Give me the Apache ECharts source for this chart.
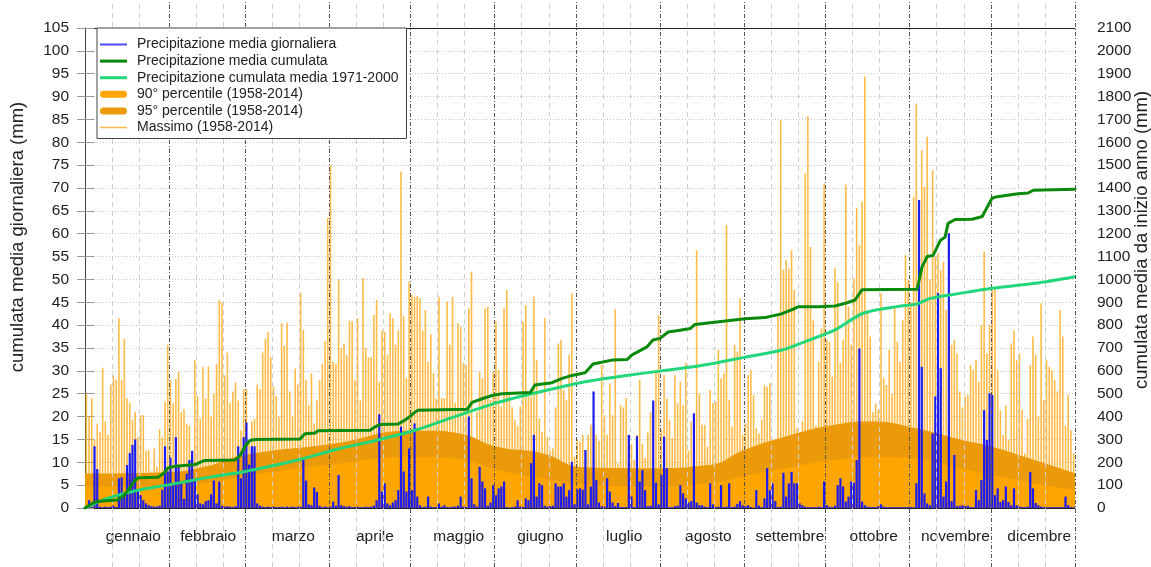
<!DOCTYPE html>
<html><head><meta charset="utf-8">
<script src="https://cdn.jsdelivr.net/npm/echarts@6/dist/echarts.min.js"></script>
<style>html,body{margin:0;padding:0;background:#fff}#c{width:1151px;height:567px}</style>
</head><body><div id="c"></div>
<script>
const monthNames = ['gennaio','febbraio','marzo','aprile','maggio','giugno','luglio','agosto','settembre','ottobre','novembre','dicembre'];
const monthDays = [31,28,31,30,31,30,31,31,30,31,30,31];

// Massimo (1958-2014), mm/day
const dailyMax = [
25,20,24,15,18.5,16.7,30.7,19,16,27,29,28,41.5,28,37,24,23,19.3,21,15.5,20.3,20.3,12.5,12.7,8,13,9,17.2,15.5,23.3,35.7,
27.9,22.9,28.2,29.8,21,21.6,18.5,18,12.5,32.4,24.5,19.5,30.9,24,31,20,25,31.5,45.5,45,29,34,23,25.5,27.5,23.5,17,26,
26,14,19,19.5,27,26,34,37,38.5,33,26.5,24.5,20,40.5,35.5,40.5,25.5,20,30.5,27,47,39,28,22.5,29.5,18.5,23.5,28,31.5,36.5,63.5,
75,32,31.5,50,35,36,33.5,41,40.8,28,41.5,23.5,50.3,35,33,33,42.2,45.5,27.6,38.9,38.5,33.5,42.6,41.5,35.7,38.9,73.6,41.9,28.4,49.5,
46.6,46.2,46.4,45.9,38.8,43.3,32,38,29.5,24,46.2,24,24,45.1,35.7,46.2,23,40.4,39.7,31.7,31.3,43.7,51.7,15,21,29.8,28.4,43.7,44,23.6,29.8,
40.8,30.2,22.2,43.7,47.7,25.5,22,19.3,18,22.2,40.8,44.4,24.4,24.4,46.2,32.4,19.6,16.7,41.5,15.5,12.5,13,22,36,36.8,25.8,23.6,33.5,47,11.2,
15,14.5,16,12.5,16,18.2,17.5,16,14.7,31.3,20.3,16,27.3,20.3,43.5,9.8,22.5,22,24,15.5,14,10.5,16,28,14,11,16.5,21,22.9,30.2,42.2,
17,29.1,24,19.3,15.3,29.1,22.9,27.6,22.5,31.7,12.5,18.9,8.5,56.4,25,18.2,18.2,13.4,25.8,22.9,23.3,34.6,28.4,29.5,61.9,23.6,17.8,35.7,34.2,45.9,16,
18.5,29.1,30.2,24.7,17.4,16.3,19.3,26.9,26.5,27.3,14.9,15,42.2,84.9,52.1,54.3,52.4,56.4,47.7,17.5,16.5,19,73.2,85.7,57.1,41,18,32,39.3,71,
36.8,36.4,28.7,52.4,49.5,31.7,36.8,70.7,44,35.7,50.2,65.6,57.5,67,94.4,42.9,37.5,21,22.9,21.5,47,28.4,26.9,34.6,25,44,36.4,32,41.1,55.3,49.9,
45,68.1,88.5,60,78.3,70.3,81.2,50,73.9,55,55.7,52,53.9,43.3,50,35.7,36.8,33.8,25.5,22,24.4,24.7,31.3,30.2,32.4,27.6,40,56.1,33.8,40,
47.7,48.1,30.2,21.4,16,22.5,15,36,38.9,32.4,33.8,21.5,12,19.5,31.3,37.5,33.5,20,44.8,23.6,32.4,30.9,30.2,28,25.5,43.3,37.5,18,24.7,17,12
];

// Precipitazione media giornaliera, mm/day
const dailyMean = [
0.3,1.7,0.2,13.5,8.5,0.3,0.2,0.3,0.2,0.3,0.5,0.2,6.5,6.7,2.5,9.4,12,13.8,15,4,2.8,1.7,1,0.6,0.4,0.3,0.3,0.5,4,13.5,8,
11,5,15.5,9,5.5,2,7.5,10.5,12.5,6,3,1,0.8,1.5,1.7,3,6,1,5.8,0.5,0.3,0.4,0.3,0.2,0.4,13.5,6.5,15.5,
18.7,9.5,13.5,13.5,1,0.5,0.3,0.2,0.3,0.2,0.3,0.2,0.2,0.3,0.2,0.3,0.2,0.3,0.2,0.3,0.3,10.5,6,0.8,0.6,4.5,3.5,0.5,0.2,0.3,0.2,
0.3,1.4,0.5,7.2,0.6,0.4,0.3,0.4,0.2,0.2,0.3,0.2,0.2,0.3,0.2,0.3,0.5,1.7,20.5,3.6,5.4,1,0.6,1.2,1.7,3.9,17.8,8,3.6,13,
3.9,18.5,2.5,0.6,0.2,0.3,2.5,0.3,0.2,0.2,1,0.3,0.6,0.2,0.2,0.3,0.3,0.5,2.5,0.3,0.2,20,6.5,0.8,0.3,9,5.8,4.3,0.5,1.2,5,
2.8,4.3,4.7,5.8,0.2,0.1,0.2,0.3,1.7,0.3,0.2,2.1,1.7,9.8,16,2.5,5.4,5,0.5,0.3,0.4,0.5,5.4,4.7,4.7,5.4,2.5,3.9,10.1,0.8,
4.1,4.3,4,12.7,0.8,4.7,25.5,6.1,1.2,0.4,0.3,6.5,3.6,1.2,0.4,1.1,0.2,0.2,0.2,16,2.5,0.2,15.7,5.8,8.3,3.9,0.4,0.5,23.5,5.5,0.8,
7.2,15.6,8.7,0.2,0.2,0.4,0.5,5,3.2,2.1,1.2,1.5,20.7,1.2,0.6,0.6,0.3,0.2,5.4,0.8,0.2,0.3,5,0.2,0.3,5.4,0.2,0.3,0.9,1.5,0.6,
0.4,0.6,0.2,0.1,3.9,0.5,0.2,2.1,8.7,3.9,5.4,1.5,0.2,0.3,7.7,2.5,5.4,7.9,5.4,5.4,1,0.6,0.3,0.2,0.2,0.2,0.2,0.3,0.2,5.8,
0.6,0.3,0.2,0.5,5,6.5,4.7,1.4,2.5,5.8,5.5,10.5,34.9,1.4,0.6,0.3,0.2,0.2,0.2,0.4,0.8,0.3,0.2,0.2,0.2,0.2,0.2,0.2,0.2,0.2,0.2,
0.2,0.2,5.4,67.4,30.9,3.2,1,0.6,16.3,24.4,47,30.6,2.5,5.8,60.1,1.5,11.6,0.4,0.5,0.6,0.4,0.5,0.2,0.2,3.9,1.7,6.1,21.4,14.9,25.1,
24.7,2.8,4.3,1.3,1.7,4.7,1.3,0.6,4.3,0.6,0.3,0.2,0.2,0.3,7.9,4.3,1.1,0.6,0.3,0.2,0.2,0.2,0.2,0.2,0.2,0.2,0.2,2.5,0.6,0.2,0.2
];

// Precipitazione media cumulata (right axis, mm), read at day positions
const cumDays = [0,2.6,4.4,11.8,14.4,16.6,18.4,19.5,26.9,28.8,30.6,33.2,40.6,42.4,44.2,55.3,57.2,59,60.8,62.7,79.3,81.1,84.8,85.9,105.1,106.9,108.8,115.4,118,119.8,121.7,122.8,140.9,142.7,146.4,150.1,153.8,164.1,165.9,172.2,175.9,179.6,184.4,187.3,194.7,199.9,201.7,207.2,209.4,212,215,219.4,223.1,224.9,230.5,243.4,250.7,257,260.7,262.9,270.3,276.5,281,283.9,286.5,306.8,308.6,310.5,312.7,315.3,317.1,318.2,320.8,327.1,330.8,334.4,336.3,344,347.7,349.6,365];
const cumValues = [0,20,28,35,55,90,120,132,135,150,175,183,190,200,208,210,230,270,295,300,302,325,328,338,340,355,365,367,385,400,420,428,432,462,478,492,500,505,538,548,567,580,592,630,648,650,670,705,735,742,770,778,785,803,810,828,833,850,868,880,881,884,898,910,955,957,1055,1100,1105,1170,1185,1245,1262,1263,1275,1355,1362,1375,1378,1390,1395];

// Precipitazione cumulata media 1971-2000 (right axis, mm)
const normDays = [0,5.5,10.3,19.5,30.2,46,59,78.5,92.2,108.8,121.7,136.4,152.3,167.7,184.4,201,219.4,230.5,243.4,257,265.5,276.5,286.9,299.4,306.8,311.6,322.6,334.4,350.2,365];
const normValues = [0,30,50,78,100,135,160,210,255,300,340,400,462,508,552,582,610,630,660,691,728,779,852,881,893,917,939,961,983,1012];

// Percentiles (left axis, mm/day)
const p95Days = [0,30,44,59,92,120,127,138,152,168.5,184,207,230,243,258,276.5,290.5,305,322.6,334.4,350,365];
const p95Values = [7.5,7.8,9,11.6,14.1,16.9,16.9,16.3,13.4,12,8.9,8.7,9.4,12.7,15.6,18.2,18.9,17.6,15,13.4,10.5,7.6];
const p90Days = [0,30,44,59,92,120,138,152,168.5,184,207,230,243,258,276.5,290.5,305,322.6,334.4,350,365];
const p90Values = [4.7,4.8,5.4,7,9.6,11.2,10.7,8.3,6.5,5.2,4.7,5.4,6.9,8.7,10.5,11.2,10.9,8.7,7.2,5.4,3.9];

if (dailyMax.length !== 365 || dailyMean.length !== 365) throw new Error('len ' + dailyMax.length + ' ' + dailyMean.length);

const monthStarts = []; let acc = 0;
monthDays.forEach(d => { monthStarts.push(acc); acc += d; });
const monthEnds = monthStarts.slice(1).concat([365]);
const dekadLines = []; monthStarts.forEach(s => { dekadLines.push(s + 10, s + 20); });
const labelShift = n => (n === 28 ? 0.4 : n === 30 ? 1.9 : 2.3);
const labelPos = monthStarts.map((s, i) => s + monthDays[i] / 2 + labelShift(monthDays[i]));

const FONT = '"Liberation Sans", Arial, sans-serif';
const zip = (a, b) => a.map((v, i) => [v, b[i]]);
const lineIcon = (h) => 'path://M0,0M0,13M0,' + (6.5 - h / 2) + 'L27,' + (6.5 - h / 2) + 'L27,' + (6.5 + h / 2) + 'L0,' + (6.5 + h / 2) + 'Z';
const fatIcon = 'path://M0,0M0,13M3.5,3L23.5,3A3.5,3.5,0,0,1,23.5,10L3.5,10A3.5,3.5,0,0,1,3.5,3Z';

const C_BLUE = '#1c1cf0', C_DG = '#0a8a0a', C_LG = '#22d67a', C_P90 = '#ffa500', C_P95 = '#eb9a0a', C_MAX = '#ffaa1a';

const chart = echarts.init(document.getElementById('c'), null, {renderer: 'canvas'});
chart.setOption({
  animation: false,
  textStyle: {fontFamily: FONT},
  grid: [
    {left: 85, right: 76, top: 28, bottom: 59, outerBoundsMode: 'none'},
    {left: 85, right: 76, top: 0, bottom: 0, outerBoundsMode: 'none'}
  ],
  legend: {
    orient: 'vertical', left: 97, top: 28, z: 20,
    padding: [9.5, 8, 4, 3], itemGap: 2.6, itemWidth: 27, itemHeight: 13,
    backgroundColor: '#fff', borderColor: '#444', borderWidth: 1, borderRadius: 0,
    selectedMode: false,
    textStyle: {fontSize: 14, lineHeight: 13, color: '#222', fontFamily: FONT, padding: [0, 0, 0, 5]},
    data: [
      {name: 'Precipitazione media giornaliera', icon: lineIcon(2), itemStyle: {color: '#4a4aff', borderWidth: 0}},
      {name: 'Precipitazione media cumulata', icon: lineIcon(3), itemStyle: {color: C_DG, borderWidth: 0}},
      {name: 'Precipitazione cumulata media 1971-2000', icon: lineIcon(3), itemStyle: {color: C_LG, borderWidth: 0}},
      {name: '90° percentile (1958-2014)', icon: fatIcon, itemStyle: {color: C_P90, borderWidth: 0}},
      {name: '95° percentile (1958-2014)', icon: fatIcon, itemStyle: {color: C_P95, borderWidth: 0}},
      {name: 'Massimo (1958-2014)', icon: lineIcon(1.5), itemStyle: {color: C_MAX, borderWidth: 0}}
    ]
  },
  xAxis: [
    {gridIndex: 0, type: 'value', min: 0, max: 365, position: 'bottom',
     axisLine: {show: true, lineStyle: {color: '#222', width: 1}}, axisTick: {show: false}, splitLine: {show: false},
     axisLabel: {customValues: labelPos, margin: 21, fontSize: 15.5, color: '#222',
       formatter: v => { const i = labelPos.findIndex(p => Math.abs(p - v) < 1e-6); return i >= 0 ? monthNames[i] : ''; }}},
    {gridIndex: 1, type: 'value', min: 0, max: 365, show: false},
    {gridIndex: 0, type: 'value', min: 0, max: 365, position: 'top',
     axisLine: {show: true, onZero: false, lineStyle: {color: '#222', width: 1}}, axisTick: {show: false},
     axisLabel: {show: false}, splitLine: {show: false}},
    {gridIndex: 0, type: 'value', min: 0, max: 365, show: false}
  ],
  yAxis: [
    {gridIndex: 0, type: 'value', min: 0, max: 105, interval: 5, position: 'left',
     axisLine: {show: true, lineStyle: {color: '#444'}},
     axisTick: {show: true, length: 8, lineStyle: {color: '#999'}},
     axisLabel: {fontSize: 15.5, color: '#222', margin: 16, formatter: v => String(v)},
     splitLine: {show: true, lineStyle: {color: '#c8c8c8', type: [1, 2]}},
     name: 'cumulata media giornaliera (mm)', nameLocation: 'middle', nameRotate: 90, nameGap: 58, nameMoveOverlap: false,
     nameTextStyle: {fontSize: 18.5, color: '#222', padding: [0, 0, 0, 62]}},
    {gridIndex: 0, type: 'value', min: 0, max: 2100, interval: 100, position: 'right',
     axisLine: {show: false}, axisTick: {show: true, length: 9, lineStyle: {color: '#999'}},
     axisLabel: {fontSize: 15.5, color: '#222', margin: 22, formatter: v => String(v)},
     splitLine: {show: false},
     name: 'cumulata media da inizio anno (mm)', nameLocation: 'middle', nameRotate: 90, nameGap: 57, nameMoveOverlap: false,
     nameTextStyle: {fontSize: 18.5, color: '#222', padding: [0, 0, 0, 56]}},
    {gridIndex: 1, type: 'value', min: 0, max: 1, show: false}
  ],
  series: [
    {type: 'line', xAxisIndex: 1, yAxisIndex: 2, data: [], z: 0, silent: true,
     markLine: {silent: true, symbol: ['none', 'none'], label: {show: false},
       data: dekadLines.map(v => ({xAxis: v, lineStyle: {color: '#cfcfcf', type: [5, 4], width: 1}}))
         .concat(monthEnds.map(v => ({xAxis: v, lineStyle: {color: '#555', type: [4, 2, 1, 2], width: 1}})))}},
    {name: 'Massimo (1958-2014)', type: 'bar', xAxisIndex: 0, yAxisIndex: 0, z: 1,
     data: dailyMax.map((v, i) => [i + 0.5, v]), barWidth: 1.6,
     itemStyle: {color: C_MAX, opacity: 0.8}},
    {name: '95° percentile (1958-2014)', type: 'line', xAxisIndex: 0, yAxisIndex: 0, z: 2,
     data: zip(p95Days, p95Values), smooth: true, symbol: 'none', color: C_P95,
     lineStyle: {width: 0}, areaStyle: {color: C_P95, opacity: 1}},
    {name: '90° percentile (1958-2014)', type: 'line', xAxisIndex: 0, yAxisIndex: 0, z: 3,
     data: zip(p90Days, p90Values), smooth: true, symbol: 'none', color: C_P90,
     lineStyle: {width: 0}, areaStyle: {color: C_P90, opacity: 1}},
    {name: 'Precipitazione media giornaliera', type: 'bar', xAxisIndex: 3, yAxisIndex: 0, z: 4,
     data: dailyMean.map((v, i) => [i + 0.5, v]), barWidth: 2.2,
     itemStyle: {color: C_BLUE}},
    {name: 'Precipitazione cumulata media 1971-2000', type: 'line', xAxisIndex: 0, yAxisIndex: 1, z: 5,
     data: zip(normDays, normValues), smooth: 0.3, symbol: 'none', color: C_LG,
     lineStyle: {width: 3, color: C_LG}},
    {name: 'Precipitazione media cumulata', type: 'line', xAxisIndex: 0, yAxisIndex: 1, z: 6,
     data: zip(cumDays, cumValues), symbol: 'none', color: C_DG,
     lineStyle: {width: 3, color: C_DG, join: 'round', cap: 'round'}}
  ]
});
</script>
</body></html>
